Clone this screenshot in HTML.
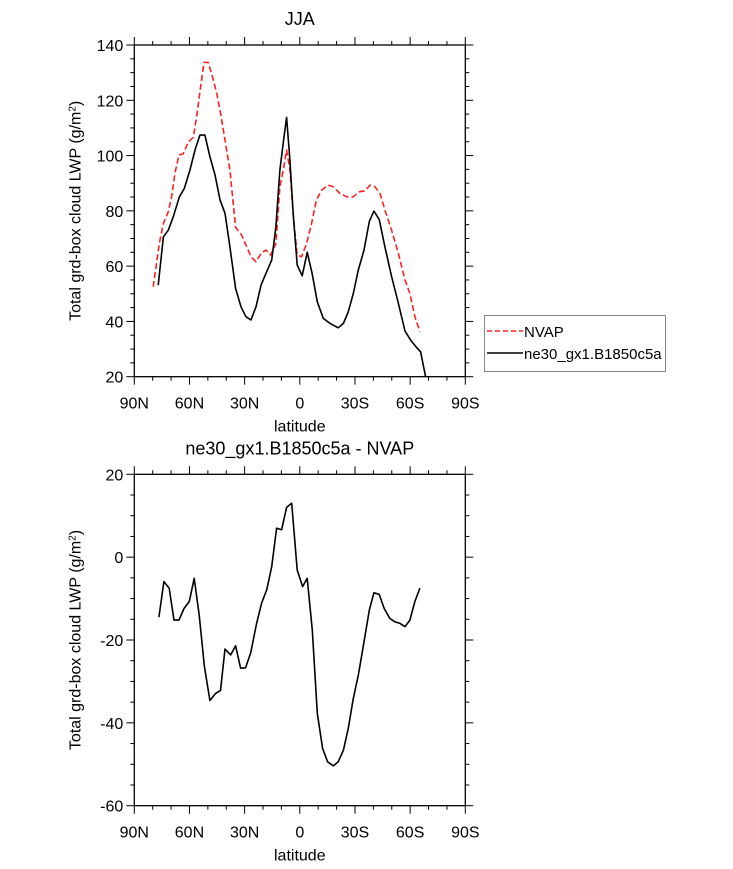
<!DOCTYPE html>
<html><head><meta charset="utf-8"><style>
html,body{margin:0;padding:0;background:#fff;width:733px;height:869px;overflow:hidden}
svg{display:block;font-family:"Liberation Sans",Arial,sans-serif}
</style></head><body>
<svg id="c" width="733" height="869" xmlns="http://www.w3.org/2000/svg"></svg>
<script>
const latNvap = [79.7,76.4,74.2,71.5,69.7,67.9,65.7,63.4,60.6,57.9,56.1,54.3,52.1,49.8,47,45.2,43.4,40.7,38,34.9,31.6,28.9,26.6,23.8,20.8,18.4,15.9,13,10.8,9,7.2,5.4,3.5,1.4,-1,-3.7,-6.4,-9.1,-11.9,-15.5,-18.2,-21.8,-25.5,-29.1,-32.3,-35.4,-38.2,-40.9,-43.6,-46.3,-49.9,-53.6,-57.2,-59.9,-62.6,-65.3];
const valNvap = [52.5,68.2,75.5,79.7,85,93.6,100.2,100.6,105,106.6,114,123,133.7,133.7,127.3,122.5,116.5,105.6,94.8,74,71.2,67,63.4,61.6,64.9,65.8,64,68.2,88.7,94.8,102,94.8,77.9,64,63.4,68.2,75.5,84,87.5,89.3,88.7,86.3,85.1,85.1,86.9,87.2,89.3,88.7,86.3,80.3,73,64.6,55,50.1,41.7,36.3];
const latModel = [77,74.2,71.5,68.8,65.5,62.8,59.7,57,54.3,51.6,48.9,46.1,43.4,40.7,38,34.9,32,29.3,26.6,23.8,21.1,18.4,15.3,13,10.8,8.6,7.2,5.4,3.5,1.4,-1.3,-4,-6.7,-9.5,-12.8,-16.4,-20.9,-23.7,-26.4,-29.1,-31.8,-34.9,-37.8,-40.3,-43.2,-46.3,-49.9,-53.6,-57.2,-60.3,-63.2,-65.7,-68.4];
const valModel = [53.1,70.6,73,77.9,85.1,88.1,94.8,102,107.4,107.4,99.6,93,84,79.1,67,51.9,45.3,41.7,40.5,45.3,53.1,57.4,62.2,74.3,94.8,106.8,113.8,98.4,77.9,60.4,56.5,65,57.4,47.1,41.1,39.3,37.7,39.3,43.5,50.1,58.6,65.8,76.1,79.9,76.9,67,56.2,46.5,36.5,33.2,30.8,29,20];
const latDiff = [76.6,73.9,71,68.4,65.7,63,60.1,57.4,54.7,51.9,48.9,45.8,43.1,40.7,37.6,34.9,32.2,29.5,26.7,23.5,20.8,18,15.3,12.6,9.9,7.2,4.4,1.4,-1.5,-4,-6.8,-9.5,-12.4,-15.1,-18.2,-20.9,-23.7,-26.4,-29.1,-31.8,-34.5,-37.8,-40.3,-43.2,-45.9,-49,-51.7,-54.5,-57.2,-59.9,-62.6,-65.3];
const valDiff = [-14.5,-5.9,-7.5,-15.2,-15.2,-12.4,-10.7,-5.1,-14,-26.4,-34.6,-32.9,-32.2,-22.2,-23.6,-21.4,-26.8,-26.7,-23.1,-16,-11.1,-7.9,-2.3,7,6.6,12,13,-3.1,-7.1,-5.1,-17.6,-37.7,-46.2,-49.4,-50.4,-49.4,-46.6,-41.3,-34.1,-28.5,-21.6,-12.8,-8.6,-9,-12.4,-14.8,-15.6,-16,-16.8,-15.2,-10.7,-7.5];
const xTickVals = [90,60,30,0,-30,-60,-90];
const xTickLabels = ["90N","60N","30N","0","30S","60S","90S"];
const yTicksTop = [20,40,60,80,100,120,140];
const yTicksBot = [-60,-40,-20,0,20];

const NS="http://www.w3.org/2000/svg";
const svg=document.getElementById('c');
function mk(tag,attrs,parent){const e=document.createElementNS(NS,tag);for(const k in attrs)e.setAttribute(k,attrs[k]);(parent||svg).appendChild(e);return e;}
const X0=134.3,X1=465.3;
const xs=lat=>X0+(90-lat)/180*(X1-X0);

function panel(name,top,bot,ymin,ymax,yticks,minorStep,title){
  const g=mk('g',{});
  
  
  const ys=v=>bot-(v-ymin)/(ymax-ymin)*(bot-top);
  const t=mk('text',{x:(X0+X1)/2,y:top-20,'text-anchor':'middle','font-size':'18'},g);
  t.textContent=title;
  
  
  const fr=mk('rect',{x:X0,y:top,width:X1-X0,height:bot-top,fill:'none',stroke:'#000','stroke-width':1.3},g);
  
  
  for(let lat=90;lat>=-90;lat-=10){
    const major=lat%30===0, L=major?8:4, x=xs(lat);
    mk('line',{x1:x,x2:x,y1:bot,y2:bot+L,stroke:'#000','stroke-width':1},g);
    mk('line',{x1:x,x2:x,y1:top,y2:top-L,stroke:'#000','stroke-width':1},g);
  }
  xTickVals.forEach((v,i)=>{
    const tl=mk('text',{x:xs(v),y:bot+32,'text-anchor':'middle','font-size':'16'},g);
    tl.textContent=xTickLabels[i];
    
    
  });
  for(let v=ymin;v<=ymax+0.001;v+=minorStep){
    const major=yticks.indexOf(v)>=0, L=major?8:4, y=ys(v);
    mk('line',{x1:X0,x2:X0-L,y1:y,y2:y,stroke:'#000','stroke-width':1},g);
    mk('line',{x1:X1,x2:X1+L,y1:y,y2:y,stroke:'#000','stroke-width':1},g);
  }
  yticks.forEach(v=>{
    const tl=mk('text',{x:X0-11,y:ys(v)+6,'text-anchor':'end','font-size':'16'},g);
    tl.textContent=String(v);
    
    
  });
  const xl=mk('text',{x:(X0+X1)/2,y:bot+55,'text-anchor':'middle','font-size':'16'},g);
  xl.textContent='latitude';
  
  
  const cy=(top+bot)/2;
  const yl=mk('text',{x:0,y:0,'text-anchor':'middle','font-size':'16',transform:`translate(${X0-54},${cy}) rotate(-90)`},g);
  yl.innerHTML='Total grd-box cloud LWP (g/m<tspan baseline-shift="super" font-size="10">2</tspan>)';
  
  
  return {g,ys};
}
function line(p,lats,vals,color,dash,name){
  const pts=lats.map((l,i)=>xs(l).toFixed(1)+','+p.ys(vals[i]).toFixed(1)).join(' ');
  const a={points:pts,fill:'none',stroke:color,'stroke-width':1.6,'stroke-linejoin':'round'};
  if(dash)a['stroke-dasharray']=dash;
  const e=mk('polyline',a,p.g);
  
  
}
const p1=panel('top-panel',45,376.7,20,140,yTicksTop,5,'JJA');
line(p1,latNvap,valNvap,'#ff2020','6,3','nvap-line');
line(p1,latModel,valModel,'#000',null,'model-line');
const p2=panel('bottom-panel',474.3,805.7,-60,20,yTicksBot,5,'ne30_gx1.B1850c5a - NVAP');
line(p2,latDiff,valDiff,'#000',null,'difference-line');

const lg=mk('g',{});


mk('rect',{x:484.5,y:315.5,width:181,height:56,fill:'#fff',stroke:'#888','stroke-width':1},lg);
mk('line',{x1:487,x2:523,y1:331,y2:331,stroke:'#ff2020','stroke-width':1.4,'stroke-dasharray':'5,3'},lg);
const l1=mk('text',{x:524,y:337,'font-size':'15'},lg);l1.textContent='NVAP';


mk('line',{x1:487,x2:523,y1:353,y2:353,stroke:'#000','stroke-width':1.4},lg);
const l2=mk('text',{x:524,y:359,'font-size':'15'},lg);l2.textContent='ne30_gx1.B1850c5a';


</script>
</body></html>
